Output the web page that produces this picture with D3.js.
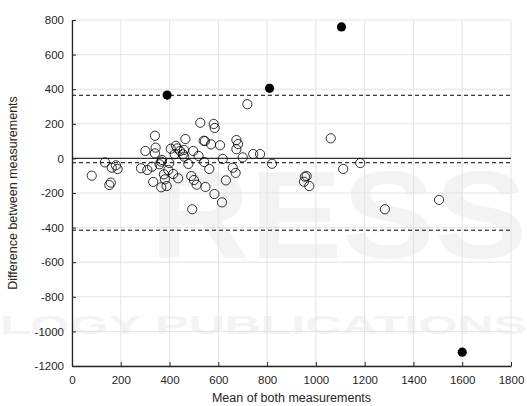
<!DOCTYPE html>
<html>
<head>
<meta charset="utf-8">
<script src="https://cdn.jsdelivr.net/npm/d3@7"></script>
<style>
  body { margin: 0; background: #fff; }
  svg { display: block; font-family: "Liberation Sans", Arial, sans-serif; }
</style>
</head>
<body>
<svg></svg>
<script>
// 数据: 两次测量的均值 / 差值
const meanVals = [81, 135, 163, 180, 187, 153, 159, 283, 309, 328, 333, 301, 340, 343, 340,
  359, 369, 366, 366, 388, 381, 377, 395, 399, 405, 415, 435, 421, 426, 432, 443, 455, 459, 460,
  465, 477, 489, 493, 497, 500, 511, 519, 526, 542, 545, 540, 547, 563, 570, 581, 585, 584, 607,
  618, 615, 631, 659, 671, 674, 681, 674, 700, 719, 743, 771, 820, 1061, 1112, 1182, 955, 962,
  951, 973, 1505, 1283]
const diffVals = [-100, -23, -54, -40, -61, -154, -140, -57, -67, -48, -136, 43, 131, 62, 29,
  -34, -9, -19, -167, -160, -121, -92, -67, -27, 56, -90, -115, 24, 73, 58, 43, 24, 49, 10,
  112, -32, -102, -294, 43, -125, -152, 14, 206, -21, 100, 102, -165, -61, 81, 199, 176, -206, 76,
  -3, -254, -127, -54, -84, 106, 83, 53, 6, 313, 25, 25, -31, 116, -61, -27, -106, -102,
  -135, -160, -240, -294]
// 离群点（实心）
const outMean = [390, 810, 1105, 1600]
const outDiff = [366, 405, 760, -1120]
// 参考线: 上限 / 均值 / 下限, 以及零线
const biasLine = -25
const upperLoA = 365
const lowerLoA = -415
const xTicks = [0, 200, 400, 600, 800, 1000, 1200, 1400, 1600, 1800]
const yTicks = [-1200, -1000, -800, -600, -400, -200, 0, 200, 400, 600, 800]

let width = 527
let height = 406
let margin = {left: 72, right: 16, top: 20, bottom: 40}
let svg = d3.select('svg')
    .attr('width', width)
    .attr('height', height)

// 水印
let wm = svg.append('g').attr('fill', '#f3f3f3').attr('font-weight', 'bold')
wm.append('text').text('RESS')
    .attr('x', 150).attr('y', 258)
    .attr('font-size', 124)
    .attr('textLength', 377).attr('lengthAdjust', 'spacingAndGlyphs')
wm.append('text').text('LOGY PUBLICATIONS')
    .attr('x', 0).attr('y', 334)
    .attr('font-size', 26)
    .attr('textLength', 527).attr('lengthAdjust', 'spacingAndGlyphs')

let xScale = d3.scaleLinear()
    .domain([0, 1800])
    .range([margin.left, width - margin.right])
let yScale = d3.scaleLinear()
    .domain([-1200, 800])
    .range([height - margin.bottom, margin.top])

// 网格
let grid = svg.append('g').attr('stroke', '#e3e3e3').attr('stroke-width', 1)
grid.selectAll('.gx').data(xTicks).enter().append('line')
    .attr('x1', d => xScale(d)).attr('x2', d => xScale(d))
    .attr('y1', yScale(-1200)).attr('y2', yScale(800))
grid.selectAll('.gy').data(yTicks).enter().append('line')
    .attr('y1', d => yScale(d)).attr('y2', d => yScale(d))
    .attr('x1', xScale(0)).attr('x2', xScale(1800))

// 参考线
svg.append('line')
    .attr('x1', xScale(0)).attr('x2', xScale(1800))
    .attr('y1', yScale(0)).attr('y2', yScale(0))
    .attr('stroke', '#333').attr('stroke-width', 1.2)
svg.selectAll('.loa').data([upperLoA, biasLine, lowerLoA]).enter().append('line')
    .attr('x1', xScale(0)).attr('x2', xScale(1800))
    .attr('y1', d => yScale(d)).attr('y2', d => yScale(d))
    .attr('stroke', '#000').attr('stroke-width', 1)
    .attr('stroke-dasharray', '4,3')

// 坐标轴
let fmt = d => String(d)
let xAxis = d3.axisBottom(xScale).tickValues(xTicks).tickFormat(fmt).tickSizeInner(-4).tickSizeOuter(0).tickPadding(8)
let yAxis = d3.axisLeft(yScale).tickValues(yTicks).tickFormat(fmt).tickSizeInner(-4).tickSizeOuter(0).tickPadding(8)
let gx = svg.append('g').attr('transform', 'translate(0,' + (height - margin.bottom) + ')').call(xAxis)
let gy = svg.append('g').attr('transform', 'translate(' + margin.left + ',0)').call(yAxis)
;[gx, gy].forEach(g => {
    g.select('.domain').attr('stroke', '#262626').attr('stroke-width', 1.3)
    g.selectAll('.tick line').attr('stroke', '#262626')
    g.selectAll('.tick text').attr('fill', '#262626').attr('font-size', 11.5)
        .attr('font-family', '"Liberation Sans", Arial, sans-serif')
})
gx.selectAll('.tick text').attr('dy', '0.9em')

// 散点
svg.append('g').selectAll('circle').data(meanVals).enter().append('circle')
    .attr('cx', d => xScale(d))
    .attr('cy', (d, i) => yScale(diffVals[i]))
    .attr('r', 4.6)
    .attr('fill', 'none')
    .attr('stroke', '#000').attr('stroke-width', 0.8)
svg.append('g').selectAll('circle').data(outMean).enter().append('circle')
    .attr('cx', d => xScale(d))
    .attr('cy', (d, i) => yScale(outDiff[i]))
    .attr('r', 4.6)
    .attr('fill', '#000')

// 轴标题
svg.append('text').text('Mean of both measurements')
    .attr('x', (xScale(0) + xScale(1800)) / 2).attr('y', 402)
    .attr('text-anchor', 'middle').attr('font-size', 12.5).attr('fill', '#262626')
svg.append('text').text('Difference between measurements')
    .attr('transform', 'translate(17,' + (yScale(-200)) + ') rotate(-90)')
    .attr('text-anchor', 'middle').attr('font-size', 12.5).attr('fill', '#262626')
</script>
</body>
</html>
